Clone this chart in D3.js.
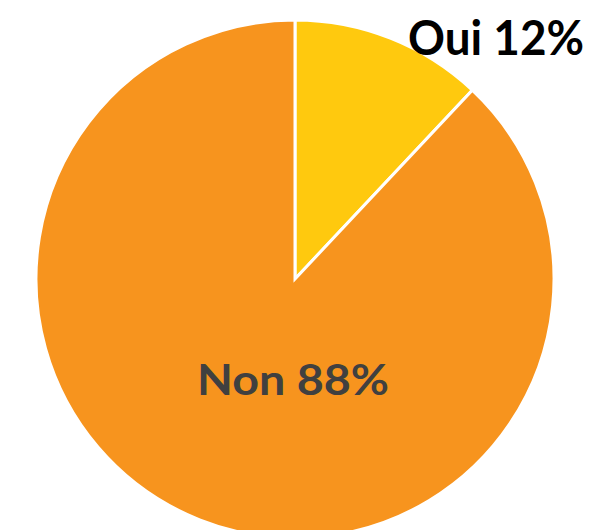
<!DOCTYPE html>
<meta charset="utf-8">
<script src="https://d3js.org/d3.v7.min.js"></script>
<style>
  body { margin: 0; background: #fff; }
</style>
<body>
<div id="my_dataviz"></div>
<script>
// data
var categories = ["Oui", "Non"];
var values = [12, 88];
var colors = ["#FFC90E", "#F7941E"];

var width = 597, height = 530;
var cx = 295, cy = 279, radius = 259;

var svg = d3.select("#my_dataviz")
  .append("svg")
    .attr("width", width)
    .attr("height", height);

var g = svg.append("g")
  .attr("transform", "translate(" + cx + "," + cy + ")");

var pie = d3.pie().sort(null).value(function(d) { return d.value; });
var arc = d3.arc().innerRadius(0).outerRadius(radius);

var data = categories.map(function(c, i) { return {name: c, value: values[i], color: colors[i]}; });
var arcs = pie(data);

g.selectAll("path")
  .data(arcs)
  .enter()
  .append("path")
    .attr("d", arc)
    .style("fill", function(d) { return d.data.color; })
    .style("stroke", "#fff")
    .style("stroke-width", 3)
    .style("stroke-linejoin", "miter");

// labels
var labels = [
  {x: 496, y: 55, size: 47, fill: "#000", len: 176},
  {x: 293, y: 395, size: 42, fill: "#404040", len: 192}
];

svg.selectAll("text.lbl")
  .data(arcs)
  .enter()
  .append("text")
    .attr("class", "lbl")
    .attr("x", function(d, i) { return labels[i].x; })
    .attr("y", function(d, i) { return labels[i].y; })
    .attr("text-anchor", "middle")
    .attr("textLength", function(d, i) { return labels[i].len; })
    .attr("lengthAdjust", "spacingAndGlyphs")
    .style("font-family", "Lato, 'Open Sans', sans-serif")
    .style("font-weight", "bold")
    .style("font-size", function(d, i) { return labels[i].size + "px"; })
    .style("fill", function(d, i) { return labels[i].fill; })
    .text(function(d) { return d.data.name + " " + d.data.value + "%"; });
</script>
</body>
